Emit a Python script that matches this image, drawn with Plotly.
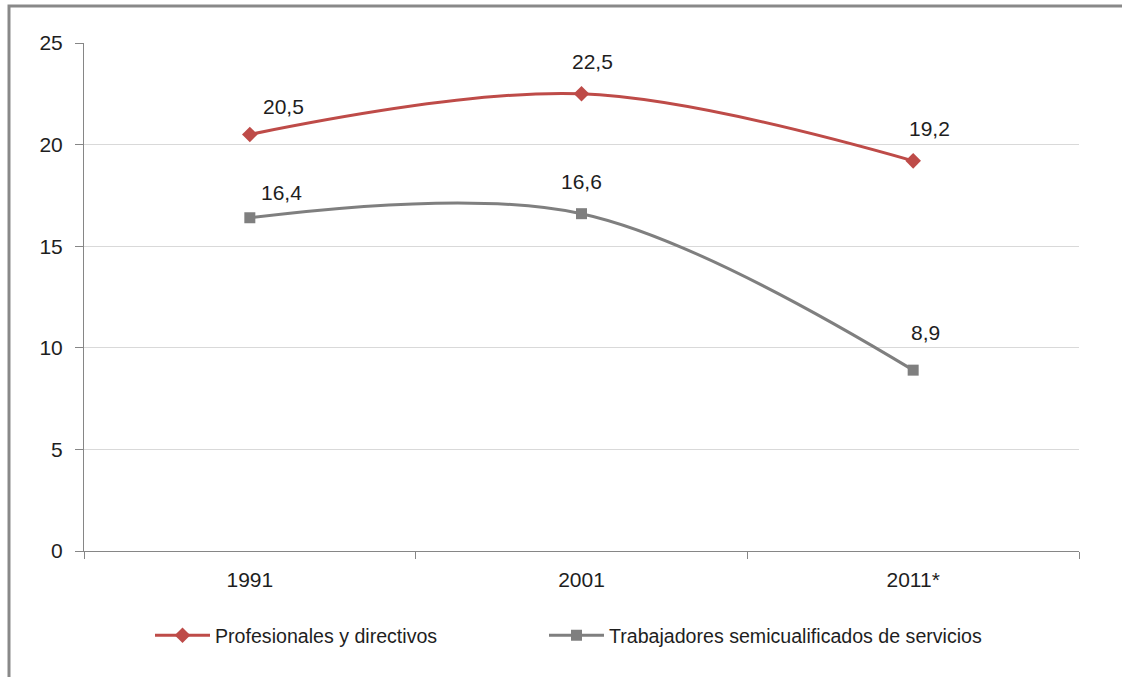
import plotly.graph_objects as go

# ---- data ----
years = ["1991", "2001", "2011*"]
profesionales = [20.5, 22.5, 19.2]
semicualificados = [16.4, 16.6, 8.9]
label_prof = ["20,5", "22,5", "19,2"]
label_semi = ["16,4", "16,6", "8,9"]
series_names = ["Profesionales y directivos", "Trabajadores semicualificados de servicios"]

# ---- style ----
RED = "#BE4B48"
GRAY = "#7F7F7F"
AXIS = "#868686"
GRID = "#D9D9D9"
TXT = "#1E1E1E"
NUM_FONT = "Liberation Sans"
LEG_FONT = "Liberation Sans"
offs_prof = [(34, 28), (11, 32), (16, 32)]
offs_semi = [(32, 25), (0, 32), (12, 38)]

W, H = 1122, 677
L, R, T, B = 84, 43, 43, 126
PW, PH = W - L - R, H - T - B


def px_x(p):
    return (p - L) / PW


def px_y(p):
    return (H - B - p) / PH


fig = go.Figure()
fig.add_trace(go.Scatter(
    x=years, y=profesionales, name=series_names[0], mode="lines+markers",
    line=dict(color=RED, width=3, shape="spline", smoothing=1.0),
    marker=dict(symbol="diamond", size=12, color=RED),
    legend="legend",
))
fig.add_trace(go.Scatter(
    x=years, y=semicualificados, name=series_names[1], mode="lines+markers",
    line=dict(color=GRAY, width=3, shape="spline", smoothing=1.0),
    marker=dict(symbol="square", size=11, color=GRAY),
    legend="legend2",
))

for ys, labs, offs in [(profesionales, label_prof, offs_prof),
                       (semicualificados, label_semi, offs_semi)]:
    for i, (yv, lab, (dx, dy)) in enumerate(zip(ys, labs, offs)):
        fig.add_annotation(x=i, y=yv, text=lab, showarrow=False,
                           xshift=dx, yshift=dy,
                           font=dict(family=NUM_FONT, size=21, color=TXT))

# outer chart border
fig.add_shape(type="rect", xref="paper", yref="paper",
              x0=px_x(9), x1=px_x(1130), y0=px_y(690), y1=px_y(6),
              line=dict(color="#898989", width=3), fillcolor="rgba(0,0,0,0)",
              layer="below")

leg_common = dict(
    orientation="h", xanchor="left", yanchor="top",
    font=dict(family=LEG_FONT, size=19.6, color=TXT),
    itemwidth=55, bgcolor="rgba(0,0,0,0)",
)

fig.update_layout(
    width=W, height=H,
    margin=dict(l=L, r=R, t=T, b=B, pad=0),
    paper_bgcolor="white", plot_bgcolor="white",
    showlegend=True,
    legend=dict(x=px_x(150), y=px_y(616), **leg_common),
    legend2=dict(x=px_x(544), y=px_y(616), **leg_common),
    xaxis=dict(
        type="category", range=[-0.5, 2.5],
        showline=True, linecolor=AXIS, linewidth=1,
        ticks="outside", tickson="boundaries", ticklen=7, tickcolor=AXIS,
        showgrid=False, tickfont=dict(family=NUM_FONT, size=21, color=TXT),
        ticklabelstandoff=10,
    ),
    yaxis=dict(
        range=[0, 25], dtick=5, tick0=0,
        showline=True, linecolor=AXIS, linewidth=1,
        ticks="outside", ticklen=8, tickcolor=AXIS,
        showgrid=True, gridcolor=GRID, gridwidth=1,
        zeroline=False,
        tickfont=dict(family=NUM_FONT, size=21, color=TXT),
        ticklabelstandoff=8,
    ),
)

fig.write_html("out.html")
